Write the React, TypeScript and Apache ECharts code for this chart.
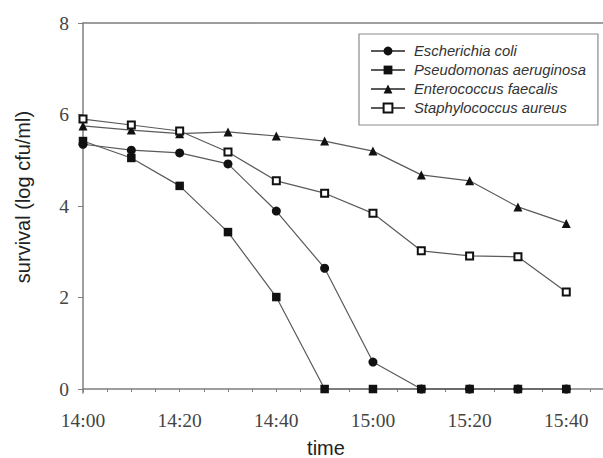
import React, { useEffect, useRef } from "react";
import * as echarts from "echarts";

const timeLabels = ["14:00", "14:10", "14:20", "14:30", "14:40", "14:50", "15:00", "15:10", "15:20", "15:30", "15:40"];
const ecoli = [5.35, 5.22, 5.16, 4.92, 3.89, 2.64, 0.59, 0, 0, 0, 0];
const pseudomonas = [5.42, 5.05, 4.44, 3.43, 2.01, 0, 0, 0, 0, 0, 0];
const enterococcus = [5.75, 5.66, 5.58, 5.62, 5.53, 5.42, 5.2, 4.68, 4.55, 3.98, 3.62];
const staphylococcus = [5.9, 5.77, 5.64, 5.18, 4.55, 4.28, 3.84, 3.02, 2.91, 2.89, 2.12];
const yTicks = [0, 2, 4, 6, 8];
const xLabelTicks = [0, 20, 40, 60, 80, 100];
const xMinorTicks = [0, 5, 10, 15, 20, 25, 30, 35, 40, 45, 50, 55, 60, 65, 70, 75, 80, 85, 90, 95, 100, 105];

const toMin = (s: string) => {
  const [h, m] = s.split(":").map(Number);
  return h * 60 + m;
};
const base = toMin(timeLabels[0]);
const minutes = timeLabels.map((t) => toMin(t) - base);
const fmt = (v: number) => {
  const total = base + v;
  const h = Math.floor(total / 60);
  const m = total % 60;
  return `${h}:${String(m).padStart(2, "0")}`;
};
const pair = (arr: number[]) => arr.map((v, i) => [minutes[i], v]);

export default function App() {
  const ref = useRef<HTMLDivElement>(null);
  useEffect(() => {
    if (!ref.current) return;
    const chart = echarts.init(ref.current, null, { renderer: "svg" });
    const axisGray = "#7f7f7f";
    const lineStyle = { color: "#5a5a5a", width: 1.2 };
    const serif = "'Liberation Serif', 'Times New Roman', serif";
    const sans = "'Liberation Sans', Arial, sans-serif";
    chart.setOption({
      animation: false,
      backgroundColor: "#ffffff",
      grid: { left: 83, top: 23, right: 0, bottom: 65 },
      legend: {
        orient: "vertical",
        left: 359,
        top: 34,
        padding: [9, 12, 9, 11],
        borderColor: "#8c8c8c",
        borderWidth: 1.2,
        itemWidth: 34,
        itemHeight: 11,
        itemGap: 3,
        textStyle: { fontFamily: sans, fontStyle: "italic", fontSize: 14.8, color: "#333", lineHeight: 16, padding: [0, 0, 0, 4] },
      },
      xAxis: [
        {
          type: "value",
          min: 0,
          max: 107.6,
          interval: 5,
          splitLine: { show: false },
          axisLine: { lineStyle: { color: axisGray, width: 1.5 } },
          axisTick: { show: true, customValues: xMinorTicks, length: 3, lineStyle: { color: axisGray, width: 1 } },
          axisLabel: { customValues: xLabelTicks, formatter: (v: number) => fmt(v), fontFamily: serif, fontSize: 19.5, color: "#444", margin: 17 },
        },
        {
          type: "value",
          position: "top",
          min: 0,
          max: 107.6,
          splitLine: { show: false },
          axisLine: { show: true, lineStyle: { color: axisGray, width: 1.5 } },
          axisTick: { show: false },
          axisLabel: { show: false },
        },
      ],
      yAxis: {
        type: "value",
        min: -0.087,
        max: 8,
        splitLine: { show: false },
        axisLine: { show: true, lineStyle: { color: axisGray, width: 1.5 } },
        axisTick: { show: true, customValues: yTicks, length: 5, lineStyle: { color: axisGray, width: 1 } },
        axisLabel: { customValues: yTicks, fontFamily: serif, fontSize: 19.5, color: "#444", margin: 14 },
      },
      graphic: [
        {
          type: "text",
          x: 23,
          y: 197,
          rotation: Math.PI / 2,
          style: { text: "survival (log cfu/ml)", font: `20px ${sans}`, fill: "#222", align: "center", verticalAlign: "middle" },
        },
        {
          type: "text",
          x: 326,
          y: 448,
          style: { text: "time", font: `20px ${sans}`, fill: "#222", align: "center", verticalAlign: "middle" },
        },
      ],
      series: [
        {
          name: "Escherichia coli",
          type: "line",
          data: pair(ecoli),
          symbol: "circle",
          symbolSize: 9,
          lineStyle,
          itemStyle: { color: "#111", borderWidth: 0 },
        },
        {
          name: "Pseudomonas aeruginosa",
          type: "line",
          data: pair(pseudomonas),
          symbol: "rect",
          symbolSize: 8.5,
          lineStyle,
          itemStyle: { color: "#111", borderWidth: 0 },
        },
        {
          name: "Enterococcus faecalis",
          type: "line",
          data: pair(enterococcus),
          symbol: "triangle",
          symbolSize: 9,
          lineStyle,
          itemStyle: { color: "#111", borderWidth: 0 },
        },
        {
          name: "Staphylococcus aureus",
          type: "line",
          data: pair(staphylococcus),
          symbol: "rect",
          symbolSize: 7,
          lineStyle,
          itemStyle: { color: "#fff", borderColor: "#111", borderWidth: 2 },
        },
      ],
    });
    return () => chart.dispose();
  }, []);
  return <div ref={ref} style={{ width: 603, height: 458, position: "absolute", left: 0, top: 0 }} />;
}
